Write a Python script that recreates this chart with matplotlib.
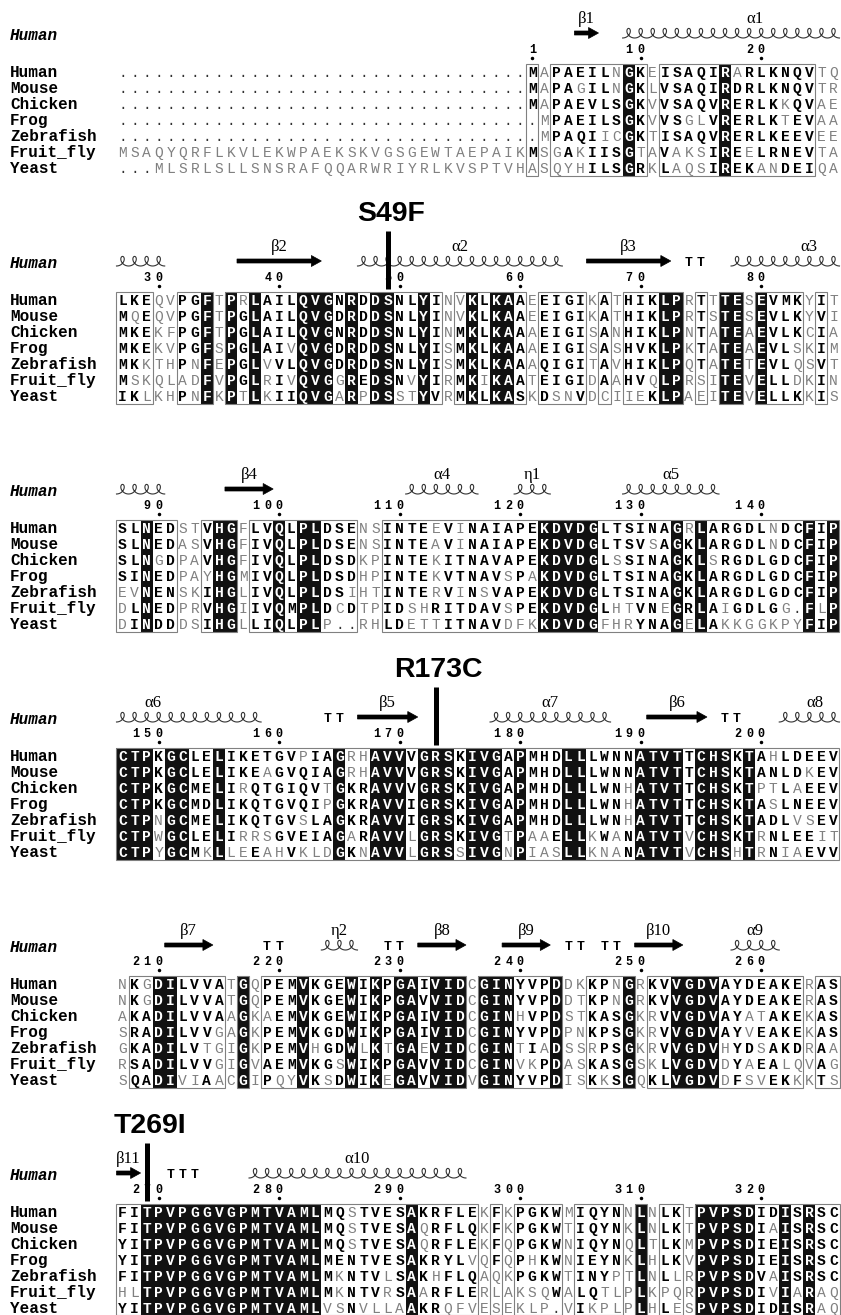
import numpy as np
import matplotlib
matplotlib.use('Agg')
import matplotlib.pyplot as plt
from matplotlib.patches import Rectangle, Polygon

species = ["Human", "Mouse", "Chicken", "Frog", "Zebrafish", "Fruit_fly", "Yeast"]

# alignment blocks (60 columns). upper case = bold / similar, lower case = thin grey, '.' = gap
block1 = [
    ".........." ".........." ".........." "...." "MaPAEILnGKeISAQIRaRLKNQVtq",
    ".........." ".........." ".........." "...." "MaPAgILnGKlVSAQIRDRLKNQVtr",
    ".........." ".........." ".........." "...." "MaPAEVLSGKvVSAQVRERLKkQVae",
    ".........." ".........." ".........." "....." "mPAEILSGKvVSglVRERLKtEVaa",
    ".........." ".........." ".........." "....." "mPAQIicGKtISAQVRERLKEEVee",
    "msaqyqrflkvlekwpaekskvgsgewtaepaik" "MsgAkIISGtaVaksIREeLRNEVta",
    "...mlsrlsllsnsrafqqarwriyrlkvsptvh" "asqyhILSGRkLaqsIREKanDEIqa",
]
block2 = [
    "LKEqvPGFtPrLAILQVGNRDDSNLYInvKLKAAeEIGIkAtHIKLPrTtTEsEVMKyIt",
    "MqEqvPGFtPGLAILQVGDRDDSNLYInvKLKAAeEIGIkAtHIKLPrTsTEsEVLKyVi",
    "MKEkfPGFtPGLAILQVGNRDDSNLYInMKLKAAaEIGIsAnHIKLPnTaTEaEVLKcIa",
    "MKEkvPGFsPGLAIvQVGDRDDSNLYIsMKLKAAaEIGIsAsHVKLPkTaTEaEVLskIm",
    "MKkthPnFePGLvVLQVGDRDDSNLYIsMKLKAAaQIGItAvHIKLPqTaTEtEVLqsVt",
    "MskqladFvPGLrIvQVGgREDSNvYIrMKiKAAtEIGIdAaHVqLPrsiTEvELLdkIn",
    "IKlkhPnFkPtLkIIQVGaRpDSstYVrMKLKASkDsnVdciieKLPaeiTEvELLKkIs",
]
block3 = [
    "SLNEDstVHGfLVQLPLDSEnsINTEeViNAIAPEKDVDGLTSINAGrLARGDLnDCFIP",
    "SLNEDasVHGfIVQLPLDSEnsINTEaViNAIAPEKDVDGLTSVsAGKLARGDLnDCFIP",
    "SLNgDpaVHGfIVQLPLDSDkpINTEkITNAVAPEKDVDGLsSINAGKLsRGDLGDCFIP",
    "SINEDpayHGmIVQLPLDSDhpINTEkVTNAVsPaKDVDGLTSINAGKLARGDLGDCFIP",
    "evNENskIHGlIVQLPLDSihtINTErViNsVAPEKDVDGLTSINAGKLARGDLGDCFIP",
    "dLNEDprVHGiIVQMPLDcDtpIDshRITDAVsPEKDVDGLhtVNeGRLAiGDLGg.FlP",
    "dINDDdsIHGlLIQLPLp..rhLDettITNAVdfkKDVDGfhrYNAGeLAkkggkpyFIP",
]
block4 = [
    "CTPKGCLELIKETGVpIAGrhAVVVGRSKIVGAPMHDLLLWNNATVTTCHSKTAhLDEEV",
    "CTPKGCLELIKEaGVQIAGrhAVVVGRSKIVGAPMHDLLLWNNATVTTCHSKTANLDkEV",
    "CTPKGCMELIrQTGIQVtGKRAVVVGRSKIVGAPMHDLLLWNhATVTTCHSKTptLaEEV",
    "CTPKGCMDLIKQTGVQIpGKRAVVIGRSKIVGAPMHDLLLWNhATVTTCHSKTAsLNEEV",
    "CTPnGCMELIKQTGVsLAGKRAVVIGRSKIVGAPMHDLLLWNhATVTTCHSKTADLvsEV",
    "CTPwGCLELIrrsGVEIAGaRAVVlGRSKIVGtPaaELLkWaNATVTvCHSKTrNLEEit",
    "CTPyGCMkLleEahVkldGKnAVVlGRSsIVGnPiasLLknaNATVTvCHShTrNiaEVV",
]
block5 = [
    "nKgDILVVAtGqPEMVKGEWIKPGAIVIDcGINYVPDdkKPnGrKVVGDVAYDEAKErAS",
    "nKgDILVVAtGqPEMVKGEWIKPGAVVIDcGINYVPDdtKPnGrKVVGDVAYDEAKErAS",
    "aKADILVVAaGkaEMVKGEWIKPGAIVIDcGINhVPDstKASGkrVVGDVAYatAKEkAS",
    "sRADILVVgaGkPEMVKGDWIKPGAIVIDcGINYVPDpnKPSGkrVVGDVAYvEAKEkAS",
    "gKADILVtgiGkPEMVhGDWlKtGAeVIDcGINtIaDssrPSGkrVVGDVhYDsAKDrAa",
    "rSADILVVgiGvAEMVKGsWIKPGAVVIDcGINvkPDasKASGskLVGDVdYaEAlqvAg",
    "sQADIviAacGiPqyVKsDWIKeGAVVIDvGINYVPDisKkSGqKLVGDVdFsvEKkkTs",
]
block6 = [
    "FITPVPGGVGPMTVAMLMQsTVESAKRFLEkFkPGKWmIQYNnLnLKtPVPSDIDISRSC",
    "FITPVPGGVGPMTVAMLMQsTVESAqRFLQkFkPGKWtIQYNkLnLKtPVPSDIaISRSC",
    "YITPVPGGVGPMTVAMLMQsTVESAqRFLEkFqPGKWnIQYNqLtLKmPVPSDIEISRSC",
    "YITPVPGGVGPMTVAMLMENTVESAKRYLvqFqPhKWnIEYNkLhLKvPVPSDIEISRSC",
    "FITPVPGGVGPMTVAMLMkNTVlSAKhFLQaqkPGKWtINYptLnLlrPVPSDVaISRSC",
    "hlTPVPGGVGPMTVAMLMkNTVrSAaRFLErlaksqWaLQtlpLkpqrPVPSDIvIaRaq",
    "YITPVPGGVGPMTVAMLvsNvllaAKRqfveseklp.vIkplpLhLesPVPSDIDISRaq",
]
blocks = [block1, block2, block3, block4, block5, block6]

# secondary structure of human protein (residue numbers)
helices = [("α1", 9, 30, 19.5), ("α2", 47, 63, 55), ("α3", 78, 90, 84),
           ("α4", 111, 116, 113.5), ("η1", 120, 122, 121), ("α5", 129, 136, 132.5),
           ("α6", 147, 158, 149.5), ("α7", 178, 187, 182.5), ("α8", 202, 206, 204.5),
           ("η2", 224, 226, 225), ("α9", 258, 261, 259.5), ("α10", 278, 295, 286.5)]
strands = [("β1", 5, 6), ("β2", 37, 43), ("β3", 66, 72), ("β4", 96, 99),
           ("β5", 167, 171), ("β6", 191, 195), ("β7", 211, 214), ("β8", 232, 235),
           ("β9", 239, 242), ("β10", 250, 253), ("β11", 267, 268)]
turns = [74, 75, 164, 165, 197, 198, 219, 220, 229, 230, 244, 245, 247, 248, 271, 272, 273]
mutations = [("S49F", 49), ("R173C", 173), ("T269I", 269)]

MONO = "Liberation Mono"
X0, CW, RH = 116.5, 12.05, 16.0
Y_FIRST, BLOCK_H = 72, 228
GREY = "#808080"

fig = plt.figure(figsize=(8.41, 13.15), dpi=100)
ax = fig.add_axes([0, 0, 1, 1])
ax.set_xlim(0, 841)
ax.set_ylim(1315, 0)
ax.axis("off")


def cx(c):
    return X0 + (c + 0.5) * CW


def by(b):
    return Y_FIRST + b * BLOCK_H


# human numbering -> (block, column)
where = {}
n = 0
for b, blk in enumerate(blocks):
    for c, ch in enumerate(blk[0]):
        if ch != ".":
            n += 1
            where[n] = (b, c)


def segments(r1, r2):
    segs = {}
    for r in range(r1, r2 + 1):
        b, c = where[r]
        segs.setdefault(b, []).append(c)
    return [(b, min(cs), max(cs)) for b, cs in segs.items()]


def res_x(r):
    b, c = where[int(r)]
    return b, cx(c) + (r - int(r)) * CW


# alignment
for b, blk in enumerate(blocks):
    y0 = by(b)
    ys = [y0 + r * RH for r in range(len(blk))]
    ytop, ybot = ys[0] - RH / 2, min(ys[-1] + RH / 2, 1314.5)
    ncol = min(len(row) for row in blk)
    framed = [any(row[c].isupper() for row in blk) for c in range(ncol)]
    black = [all(row[c].isupper() for row in blk) and len(set(row[c] for row in blk)) == 1
             for c in range(ncol)]

    c = 0
    while c < ncol:
        if framed[c]:
            s = c
            while c < ncol and framed[c]:
                c += 1
            ax.add_patch(Rectangle((X0 + s * CW, ytop), (c - s) * CW, ybot - ytop,
                                   fill=False, ec=GREY, lw=0.8, zorder=2))
        else:
            c += 1
    for c in range(ncol):
        if black[c]:
            ax.add_patch(Rectangle((X0 + c * CW, ytop), CW, ybot - ytop,
                                   fc="#111111", ec="none", zorder=1))

    ax.text(10, y0 - 37 + 5, "Human", family=MONO, style="italic", weight="bold",
            fontsize=11.5, va="baseline", ha="left")
    for r, row in enumerate(blk):
        ax.text(10, ys[r] + 5.0, species[r], family=MONO, weight="bold",
                fontsize=11.5, va="baseline", ha="left")
        for c, ch in enumerate(row[:ncol]):
            if black[c]:
                col, w = "white", "bold"
            elif ch == ".":
                col, w = "#333333", "normal"
            elif ch.isupper():
                col, w = "black", "bold"
            else:
                col, w = GREY, "normal"
            ax.text(cx(c), ys[r] + 4.8, ch.upper(), family=MONO, weight=w, color=col,
                    fontsize=10.5, ha="center", va="baseline", zorder=3)

# numbering
for r, (b, c) in where.items():
    if r == 1 or r % 10 == 0:
        y0 = by(b)
        for i, d in enumerate(reversed(str(r))):
            ax.text(cx(c) - i * 11.5, y0 - 23 + 3.9, d, family=MONO, weight="bold",
                    fontsize=8.5, ha="center", va="baseline")
        ax.plot(cx(c), y0 - 14, "o", ms=1.5, color="black")

# helices
for name, r1, r2, lab in helices:
    for b, c1, c2 in segments(r1, r2):
        y0 = by(b)
        nl = c2 - c1 + 1
        t = np.linspace(0, nl, nl * 60 + 1)
        xs = X0 + c1 * CW + CW * t + 4.3 * np.sin(2 * np.pi * t)
        yv = (y0 - 34) - 4.8 * (1 - np.cos(2 * np.pi * t))
        ax.plot(xs, yv, color="#333333", lw=0.8)
    b, x = res_x(lab)
    ax.text(x, by(b) - 53, name, family="Liberation Serif", fontsize=12,
            ha="center", va="center")

# strands
for name, r1, r2 in strands:
    for b, c1, c2 in segments(r1, r2):
        y0 = by(b)
        xl, xr = X0 + c1 * CW, X0 + (c2 + 1) * CW
        yc = y0 - 39
        hl = min(10, (xr - xl) * 0.45)
        pts = [(xl, yc - 2), (xr - hl, yc - 2), (xr - hl, yc - 5.5), (xr, yc),
               (xr - hl, yc + 5.5), (xr - hl, yc + 2), (xl, yc + 2)]
        ax.add_patch(Polygon(pts, closed=True, fc="black", ec="black", lw=0.5))
    b, x = res_x((r1 + r2) / 2)
    ax.text(x, by(b) - 53, name, family="Liberation Serif", fontsize=12,
            ha="center", va="center")

# turns
for r in turns:
    b, c = where[r]
    ax.text(cx(c), by(b) - 38 + 4, "T", family=MONO, weight="bold", fontsize=9.5,
            ha="center", va="baseline")

# mutations
for name, r in mutations:
    b, c = where[r]
    y0 = by(b)
    ax.plot([cx(c), cx(c)], [y0 - 69, y0 - 11], color="black", lw=3.6,
            solid_capstyle="butt", zorder=6)
    ax.text(cx(c) + 3, y0 - 86, name, family="Liberation Sans", weight="bold",
            fontsize=20.5, ha="center", va="center", zorder=6)

fig.savefig("out.png", dpi=100)
plt.close(fig)
